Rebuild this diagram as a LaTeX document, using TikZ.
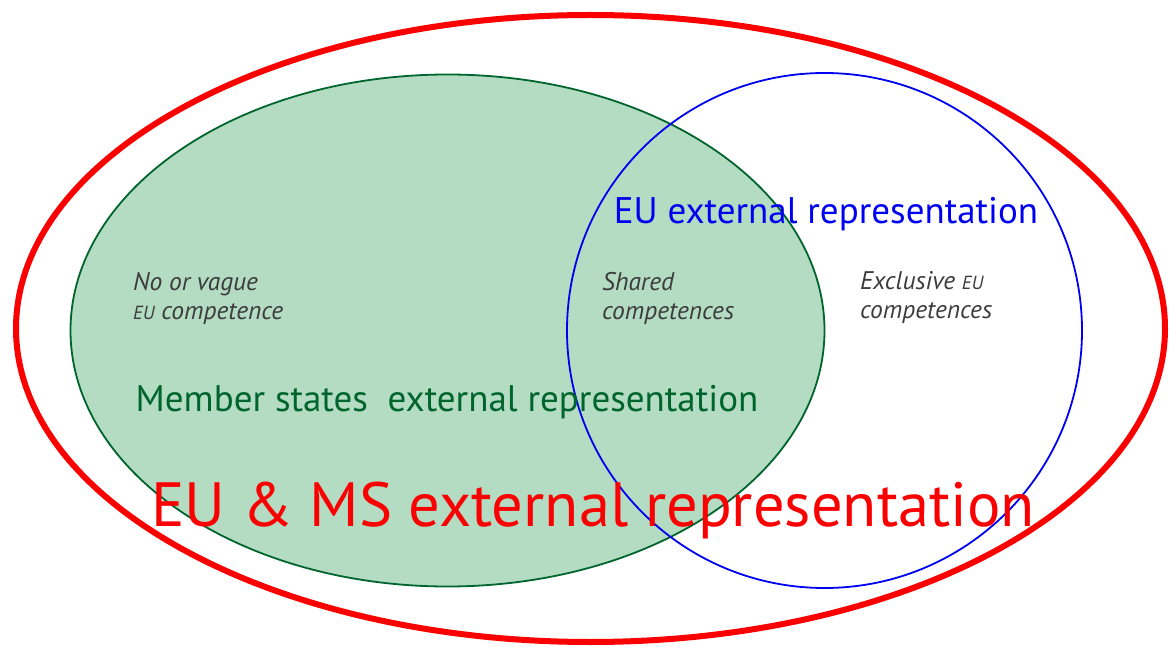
\documentclass[tikz,border=0pt]{standalone}
\usepackage{fontspec}
\setmainfont{PT Sans}
\usetikzlibrary{positioning}

\definecolor{msgreen}{RGB}{0,100,45}
\definecolor{msfill}{RGB}{179,220,195}
\definecolor{eublue}{RGB}{0,0,240}
\definecolor{eured}{RGB}{250,0,0}
\definecolor{note}{RGB}{60,60,60}
\newcommand{\smallcapsEU}{{\fontsize{19}{20}\selectfont EU}}

\begin{document}
\begin{tikzpicture}[x=1pt, y=-1pt, inner sep=0pt,
    remark/.style={anchor=west, align=left, text=note, font=\fontsize{25.5}{29}\selectfont\itshape},
    label/.style={anchor=base, font=\fontsize{37}{40}\selectfont}]
    \useasboundingbox (0,0) rectangle (1171,647);

    % the three areas
    \draw[eured, line width=6pt] (590.5,328.5) ellipse [x radius=574.5, y radius=313.5];
    \draw[msgreen, fill=msfill, line width=1.8pt] (447.5,330.5) ellipse [x radius=377, y radius=256];
    \draw[eublue, line width=1.8pt] (824.5,330.5) circle [radius=257.5];

    % competences
    \node[remark] (none) at (133,298) {No or vague\\\smallcapsEU{} competence};
    \node[remark] (shared) at (602,298) {Shared\\competences};
    \node[remark] (excl) at (860,298) {Exclusive \smallcapsEU\\competences};

    % who represents
    \node[label, text=eublue] (eu) at (826,224) {EU external representation};
    \node[label, text=msgreen] (ms) at (447,411) {Member states\ \ external representation};
    \node[label, text=eured, font=\fontsize{62.5}{70}\selectfont] (both) at (593,526) {EU \& MS external representation};
\end{tikzpicture}
\end{document}
